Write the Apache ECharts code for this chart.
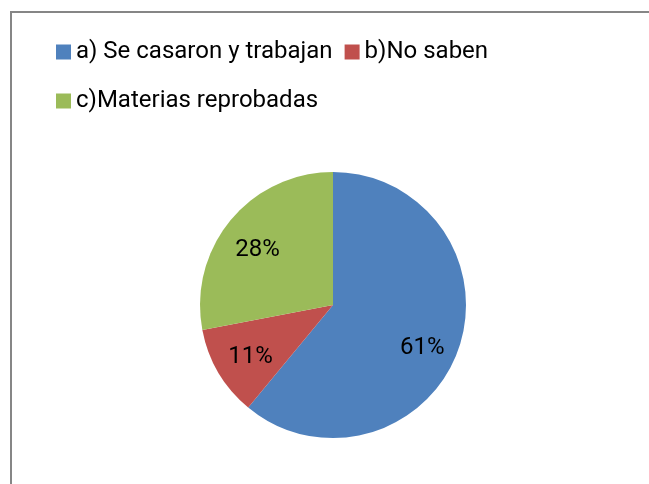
<!DOCTYPE html>
<html>
<head>
<meta charset="utf-8">
<script src="https://cdn.jsdelivr.net/npm/echarts@6/dist/echarts.min.js"></script>
<style>
html,body{margin:0;padding:0;background:#fff;}
#chart{width:649px;height:484px;}
</style>
</head>
<body>
<div id="chart"></div>
<script>
var categories = ['a) Se casaron y trabajan', 'b)No saben', 'c)Materias reprobadas'];
var values = [61, 11, 28];
var colors = ['#4F81BD', '#C0504D', '#9BBB59'];

var FONT = 'Roboto, "Open Sans", sans-serif';
var chart = echarts.init(document.getElementById('chart'), null, {renderer: 'canvas'});

var labelOffsets = [[-3, 10], [2, 2], [0, 7]];

var data = categories.map(function (c, i) {
  return {name: c, value: values[i], itemStyle: {color: colors[i]}};
});
var labelData = categories.map(function (c, i) {
  return {name: c, value: values[i], label: {offset: labelOffsets[i]}};
});

var legendText = {fontFamily: FONT, fontSize: 24, color: '#000'};

chart.setOption({
  animation: false,
  color: colors,
  graphic: [{
    type: 'rect',
    shape: {x: 11, y: 12, width: 700, height: 520},
    style: {fill: 'none', stroke: '#868686', lineWidth: 2},
    silent: true
  }],
  legend: [{
    data: [categories[0], categories[1]],
    left: 56, top: 40, padding: 0,
    orient: 'horizontal',
    itemWidth: 15, itemHeight: 15, itemGap: 12,
    icon: 'rect',
    textStyle: legendText,
    selectedMode: false
  }, {
    data: [categories[2]],
    left: 56, top: 89, padding: 0,
    itemWidth: 15, itemHeight: 15,
    icon: 'rect',
    textStyle: legendText,
    selectedMode: false
  }],
  series: [{
    type: 'pie',
    center: [333, 305],
    radius: [0, 133],
    startAngle: 90,
    clockwise: true,
    label: {show: false},
    labelLine: {show: false},
    silent: true,
    data: data
  }, {
    type: 'pie',
    center: [333, 305],
    radius: [57, 133],
    startAngle: 90,
    clockwise: true,
    silent: true,
    itemStyle: {color: 'rgba(0,0,0,0)'},
    label: {
      show: true,
      position: 'inside',
      formatter: '{c}%',
      fontFamily: FONT,
      fontSize: 24,
      color: '#000'
    },
    labelLine: {show: false},
    data: labelData
  }]
});
</script>
</body>
</html>
